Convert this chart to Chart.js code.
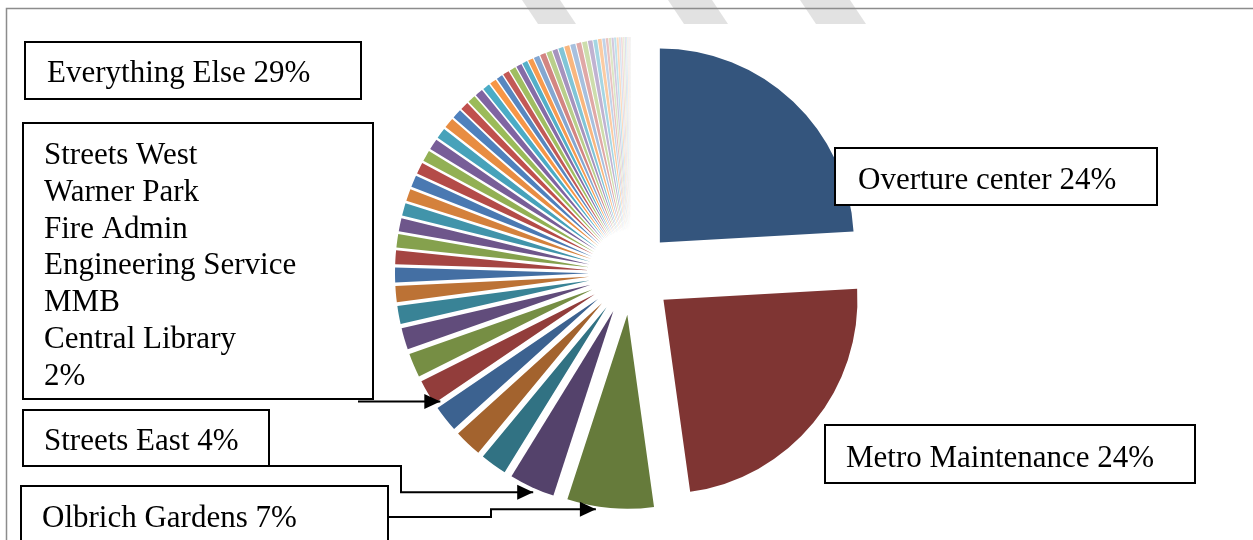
<!DOCTYPE html>
<html lang="en">
<head>
<meta charset="UTF-8">
<title>Energy use by facility</title>
<script src="https://cdn.jsdelivr.net/npm/chart.js@4.4.1/dist/chart.umd.min.js"></script>
<style>
  html, body { margin: 0; padding: 0; background: #fff; }
  canvas { display: block; }
</style>
</head>
<body>
<canvas id="myChart" width="1253" height="540"></canvas>
<script>
// named facilities, clockwise from 12 o'clock (percent of total)
const namedFacilities = ['Overture center', 'Metro Maintenance', 'Olbrich Gardens', 'Streets East',
    'Streets West', 'Warner Park', 'Fire Admin', 'Engineering Service', 'MMB', 'Central Library'];
const namedShares = [24.1, 23.7, 7.2, 3.8, 2.2, 2.3, 2.2, 2.1, 2.0, 1.8];

// "everything else": the thin slices
const otherShares = [
    1.50, 1.34, 1.25, 1.14, 1.11, 1.08, 1.04, 1.01, 0.98, 0.95,
    0.92, 0.92, 0.89, 0.86, 0.78, 0.69, 0.66, 0.66, 0.60, 0.55,
    0.52, 0.52, 0.52, 0.46, 0.43, 0.43, 0.46, 0.46, 0.43, 0.42,
    0.42, 0.42, 0.42, 0.40, 0.40, 0.37, 0.32, 0.30, 0.24, 0.20,
    0.19, 0.18, 0.17, 0.16,
    0.14, 0.13, 0.12, 0.10, 0.09, 0.07, 0.06, 0.05, 0.04, 0.03
];

// text of the call-out boxes
const labelOverture = ['Overture center 24%'];
const labelMetro = ['Metro Maintenance 24%'];
const labelOlbrich = ['Olbrich Gardens 7%'];
const labelStreetsEast = ['Streets East 4%'];
const labelTwoPercent = ['Streets West', 'Warner Park', 'Fire Admin', 'Engineering Service', 'MMB', 'Central Library', '2%'];
const labelElse = ['Everything Else 29%'];

const labels = namedFacilities.concat(otherShares.map((v, i) => 'Other ' + (i + 1)));
const shares = namedShares.concat(otherShares);

// office-style accents, darker first and paler towards the end
const accents = ['#4F81BD', '#C0504D', '#9BBB59', '#8064A2', '#4BACC6', '#F79646'];
const shadeSteps = [-0.34, -0.24, -0.14, -0.06, 0, 0.05, 0.3, 0.5, 0.65, 0.78, 0.86];

function shade(hex, t) {
    const n = parseInt(hex.slice(1), 16);
    const c = [n >> 16, (n >> 8) & 255, n & 255].map(v => t < 0 ? v * (1 + t) : v + (255 - v) * t);
    return 'rgb(' + c.map(Math.round).join(',') + ')';
}
const sliceColors = shares.map((v, i) => shade(accents[i % 6], shadeSteps[Math.floor(i / 6)]));

const EXPLODE = 42;
const FONT = '31px "Liberation Serif", "Times New Roman", serif';

// every slice pulled out from the centre by the same distance
const explode = {
    id: 'explode',
    beforeDatasetDraw(chart, args) {
        const ctx = chart.ctx;
        args.meta.data.forEach(arc => {
            const p = arc.getProps(['startAngle', 'endAngle'], true);
            const mid = (p.startAngle + p.endAngle) / 2;
            ctx.save();
            ctx.translate(Math.cos(mid) * EXPLODE, Math.sin(mid) * EXPLODE);
            arc.draw(ctx);
            ctx.restore();
        });
        return false;
    }
};

function slicePoint(chart, index, frac, dr) {
    const arc = chart.getDatasetMeta(0).data[index];
    const p = arc.getProps(['x', 'y', 'startAngle', 'endAngle', 'outerRadius'], true);
    const mid = (p.startAngle + p.endAngle) / 2;
    const a = p.startAngle + (p.endAngle - p.startAngle) * frac;
    const r = p.outerRadius + dr;
    return {
        x: p.x + Math.cos(mid) * EXPLODE + Math.cos(a) * r,
        y: p.y + Math.sin(mid) * EXPLODE + Math.sin(a) * r
    };
}

// page frame and the faint watermark strokes at the top
const backdrop = {
    id: 'backdrop',
    beforeDraw(chart) {
        const ctx = chart.ctx;
        ctx.save();
        ctx.fillStyle = '#e2e2e2';
        [[522, 560], [668, 712], [800, 850]].forEach(([a, b]) => {
            ctx.beginPath();
            ctx.moveTo(a, 0); ctx.lineTo(b, 0);
            ctx.lineTo(b + 16, 24); ctx.lineTo(a + 16, 24);
            ctx.closePath();
            ctx.fill();
        });
        ctx.strokeStyle = '#8c8c8c';
        ctx.lineWidth = 1.5;
        ctx.beginPath();
        ctx.moveTo(1253, 8.5); ctx.lineTo(6.5, 8.5); ctx.lineTo(6.5, 540);
        ctx.stroke();
        ctx.restore();
    }
};

function box(ctx, x, y, w, h, lines, tx, ty, lh) {
    ctx.fillStyle = '#fff';
    ctx.fillRect(x, y, w, h);
    ctx.strokeRect(x, y, w, h);
    ctx.fillStyle = '#000';
    lines.forEach((t, i) => ctx.fillText(t, tx, ty + i * lh));
}

function arrow(ctx, pts) {
    ctx.beginPath();
    ctx.moveTo(pts[0].x, pts[0].y);
    pts.slice(1).forEach(p => ctx.lineTo(p.x, p.y));
    ctx.stroke();
    const a = pts[pts.length - 1], b = pts[pts.length - 2];
    const ang = Math.atan2(a.y - b.y, a.x - b.x);
    const c = Math.cos(ang), s = Math.sin(ang);
    ctx.beginPath();
    ctx.moveTo(a.x, a.y);
    ctx.lineTo(a.x - 16 * c + 7.5 * s, a.y - 16 * s - 7.5 * c);
    ctx.lineTo(a.x - 16 * c - 7.5 * s, a.y - 16 * s + 7.5 * c);
    ctx.closePath();
    ctx.fill();
}

const callouts = {
    id: 'callouts',
    afterDraw(chart) {
        const ctx = chart.ctx;
        ctx.save();
        ctx.font = FONT;
        ctx.textBaseline = 'alphabetic';
        ctx.strokeStyle = '#000';
        ctx.lineWidth = 2;

        box(ctx, 25, 42, 336, 57, labelElse, 47, 82, 0);
        box(ctx, 23, 123, 350, 276, labelTwoPercent, 44, 164, 36.8);
        box(ctx, 23, 410, 246, 56, labelStreetsEast, 44, 450, 0);
        box(ctx, 21, 486, 367, 70, labelOlbrich, 42, 527, 0);
        box(ctx, 835, 148, 322, 57, labelOverture, 858, 189, 0);
        box(ctx, 825, 425, 370, 58, labelMetro, 846, 467, 0);

        ctx.fillStyle = '#000';
        const tWest = slicePoint(chart, 6, 1.15, -6);
        arrow(ctx, [{x: 358, y: tWest.y}, tWest]);

        const tEast = slicePoint(chart, 3, 0.43, 4);
        arrow(ctx, [{x: 269, y: 466}, {x: 401, y: 466}, {x: 401, y: tEast.y}, tEast]);

        const tOlb = slicePoint(chart, 2, 0.66, 3);
        arrow(ctx, [{x: 388, y: 517}, {x: 491, y: 517}, {x: 491, y: tOlb.y}, tOlb]);
        ctx.restore();
    }
};

const ctx = document.getElementById('myChart').getContext('2d');
const myChart = new Chart(ctx, {
    type: 'pie',
    data: {
        labels: labels,
        datasets: [{
            data: shares,
            backgroundColor: sliceColors,
            borderWidth: 0
        }]
    },
    options: {
        responsive: false,
        animation: false,
        radius: 194,
        layout: { padding: { left: 9, top: 6 } },
        plugins: {
            legend: { display: false },
            tooltip: { enabled: false }
        }
    },
    plugins: [backdrop, explode, callouts]
});
</script>
</body>
</html>
